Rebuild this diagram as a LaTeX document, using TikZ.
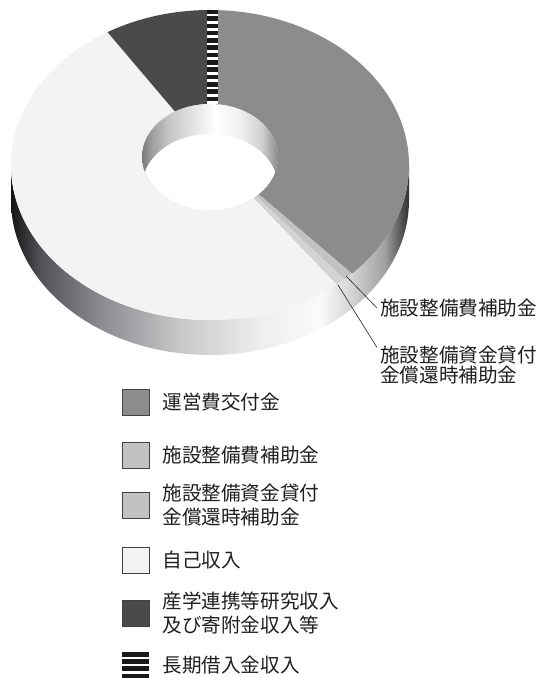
\documentclass[tikz,border=0pt]{standalone}
\usepackage{fontspec}
\newfontfamily\jp{Noto Sans CJK JP}
\usetikzlibrary{calc,positioning}
\definecolor{unei}{HTML}{8C8C8C}
\definecolor{shisetsu}{HTML}{C2C2C2}
\definecolor{kashitsuke}{HTML}{D3D3D3}
\definecolor{jiko}{HTML}{F2F3F2}
\definecolor{sangaku}{HTML}{4A4A4C}
\definecolor{sw0}{HTML}{151515}
\definecolor{sw1}{HTML}{505055}
\definecolor{sw2}{HTML}{8A8A8F}
\definecolor{sw3}{HTML}{C8C8CA}
\definecolor{sw4}{HTML}{EEEEEE}
\definecolor{sw5}{HTML}{FAFAFA}
\definecolor{sw6}{HTML}{D6D6D6}
\definecolor{sw7}{HTML}{A0A0A2}
\definecolor{sw8}{HTML}{303032}
\definecolor{hw0}{HTML}{7A7A7A}
\definecolor{hw1}{HTML}{9A9A9A}
\definecolor{hw2}{HTML}{C8C8C8}
\definecolor{hw3}{HTML}{ECECEC}
\definecolor{hw4}{HTML}{FFFFFF}
\definecolor{hw5}{HTML}{F0F0F0}
\definecolor{hw6}{HTML}{D0D0D0}
\definecolor{hw7}{HTML}{8A8A8A}
\pgfdeclarehorizontalshading{sidewall}{100bp}{color(0bp)=(sw0); color(25bp)=(sw0);
  color(28.6bp)=(sw1); color(36.2bp)=(sw2); color(46.2bp)=(sw3); color(56.3bp)=(sw4);
  color(63.8bp)=(sw5); color(67.6bp)=(sw6); color(72bp)=(sw7); color(75bp)=(sw8); color(100bp)=(sw8)}
\pgfdeclarehorizontalshading{holewall}{100bp}{color(0bp)=(hw0); color(25bp)=(hw0);
  color(27.9bp)=(hw1); color(35.3bp)=(hw2); color(46.3bp)=(hw3); color(51.8bp)=(hw4);
  color(61bp)=(hw5); color(69.1bp)=(hw6); color(75bp)=(hw7); color(100bp)=(hw7)}
\newcommand\ringslice[3]{\fill[#1] ($(O)+(#2:199pt and 155pt)$)
  arc[start angle=#2, end angle=#3, x radius=199pt, y radius=155pt]
  -- ($(H)+(#3:68pt and 53pt)$)
  arc[start angle=#3, end angle=#2, x radius=68pt, y radius=53pt] -- cycle;}
\begin{document}
\begin{tikzpicture}[x=1pt, y=1pt,
  keybox/.style = {draw=black!75, line width=0.7pt, minimum width=27pt,
    minimum height=26pt, inner sep=0pt},
  keytext/.style = {font=\jp\fontsize{19.6}{24}\selectfont, text=black!88,
    align=left, inner sep=0pt},
  calltext/.style = {font=\jp\fontsize{19.6}{20}\selectfont, text=black!88,
    align=left, inner sep=3pt},
  leader/.style = {draw=black!85, line width=0.6pt}]
  \useasboundingbox (0,0) rectangle (542,678);
  \coordinate (O) at (210,513);
  \coordinate (H) at (210,521);
  \shade[shading=sidewall] ($(O)+(180:199pt and 155pt)$)
    arc[start angle=180, end angle=360, x radius=199pt, y radius=155pt]
    -- ++(0,-35) arc[start angle=0, end angle=-180, x radius=199pt, y radius=155pt]
    -- cycle;
  \ringslice{unei}{-44.5}{90}
  \ringslice{shisetsu}{-47.5}{-44.5}
  \ringslice{kashitsuke}{-50.5}{-47.5}
  \ringslice{jiko}{121}{309.5}
  \ringslice{sangaku}{90}{121}
  \begin{scope}
    \clip (O) ellipse[x radius=199pt, y radius=155pt];
    \fill[white] (207,560) rectangle (218,670);
    \foreach \k in {0,...,13}
      \fill[black!90] (207,{669-\k*7.3}) rectangle (218,{664.4-\k*7.3});
  \end{scope}
  \begin{scope}
    \clip (H) ellipse[x radius=68pt, y radius=53pt];
    \shade[shading=holewall] (H) ellipse[x radius=68pt, y radius=53pt];
    \fill[white] ($(H)+(0,-30)$) ellipse[x radius=68pt, y radius=53pt];
  \end{scope}
  \coordinate (subsidyTip) at (346,402);
  \coordinate (loanTip) at (338,393);
  \node[calltext, anchor=west] (subsidyLbl) at (377,370) {施設整備費補助金};
  \node[calltext, anchor=north west] (loanLbl) at (377,335.5)
    {施設整備資金貸付\\金償還時補助金};
  \draw[leader] (subsidyTip) -- (subsidyLbl.west);
  \draw[leader] (loanTip) -- ([yshift=-5pt]loanLbl.north west);
  \node[keybox, fill=unei] (kUnei) at (135.5,275.5) {};
  \node[keytext, right=13pt of kUnei] (tUnei) {運営費交付金};
  \node[keybox, fill=shisetsu] (kShisetsu) at (135.5,223) {};
  \node[keytext, right=13pt of kShisetsu] (tShisetsu) {施設整備費補助金};
  \node[keybox, fill=shisetsu] (kKashitsuke) at (135.5,173) {};
  \node[keytext, right=13pt of kKashitsuke] (tKashitsuke) {施設整備資金貸付\\金償還時補助金};
  \node[keybox, fill=jiko] (kJiko) at (135.5,117.5) {};
  \node[keytext, right=13pt of kJiko] (tJiko) {自己収入};
  \node[keybox, fill=sangaku] (kSangaku) at (135.5,65) {};
  \node[keytext, right=13pt of kSangaku] (tSangaku) {産学連携等研究収入\\及び寄附金収入等};
  \node[keybox, draw=none, fill=white, path picture={
      \foreach \k in {0,...,3}
        \fill[black!90] ([yshift=-\k*7.2pt]path picture bounding box.north west)
          rectangle ++(27pt,-4.6pt);}] (kKariire) at (135.5,13) {};
  \node[keytext, right=13pt of kKariire] (tKariire) {長期借入金収入};
\end{tikzpicture}
\end{document}
